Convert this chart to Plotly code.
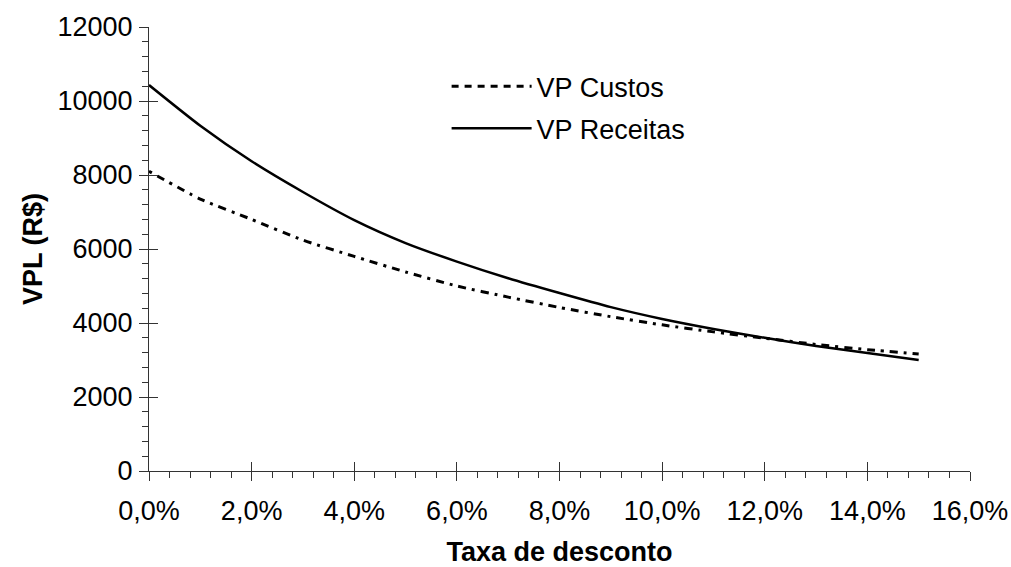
import plotly.graph_objects as go

# discount rate (fraction) and present values
taxa = [0.00, 0.01, 0.02, 0.03, 0.04, 0.05, 0.06, 0.07, 0.08,
        0.09, 0.10, 0.11, 0.12, 0.13, 0.14, 0.15]
vp_custos = [8100, 7350, 6800, 6240, 5800, 5380, 5000, 4700, 4420,
             4170, 3950, 3760, 3590, 3420, 3280, 3160]
vp_receitas = [10430, 9330, 8370, 7540, 6780, 6160, 5660, 5210, 4810,
               4430, 4110, 3840, 3600, 3380, 3190, 3000]

FONT = "Liberation Sans, Arial, sans-serif"
INK = "#000000"
AXIS = "#333333"
FS = 27

fig = go.Figure()

# plotted curves
fig.add_trace(go.Scatter(
    x=taxa, y=vp_custos, mode="lines", name="VP Custos",
    line=dict(color=INK, width=3, dash="3px,6px,8px,6px",
              shape="spline", smoothing=0.6),
    showlegend=False
))
fig.add_trace(go.Scatter(
    x=taxa, y=vp_receitas, mode="lines", name="VP Receitas",
    line=dict(color=INK, width=2.5, shape="spline", smoothing=0.6),
    showlegend=False
))

# legend entries (legend uses a regular dash like the original)
fig.add_trace(go.Scatter(
    x=[None], y=[None], mode="lines", name="VP Custos",
    line=dict(color=INK, width=3, dash="7px,6px"),
    legendgroup="c"
))
fig.add_trace(go.Scatter(
    x=[None], y=[None], mode="lines", name="VP Receitas",
    line=dict(color=INK, width=2.5),
    legendgroup="r"
))

tick_font = dict(family=FONT, size=FS, color=INK)
title_font = dict(family=FONT, size=FS, color=INK)

fig.update_layout(
    width=1011, height=567,
    margin=dict(l=149, r=41, t=27, b=96),
    paper_bgcolor="white",
    plot_bgcolor="white",
    font=dict(family=FONT, size=FS, color=INK),
    separators=",.",
    xaxis=dict(
        range=[0, 0.16], dtick=0.02, tick0=0, tickformat=".1%",
        showgrid=False, zeroline=False, automargin=False,
        showline=True, linecolor=AXIS, linewidth=1,
        ticks="outside", ticklen=9, tickcolor=AXIS, tickwidth=1,
        minor=dict(dtick=0.004, ticks="outside", ticklen=6,
                   tickcolor=AXIS, tickwidth=1, showgrid=False),
        tickfont=tick_font, ticklabelstandoff=7,
        title=dict(text="<b>Taxa de desconto</b>", font=title_font, standoff=19),
    ),
    yaxis=dict(
        range=[0, 12000], dtick=2000, tick0=0, tickformat="d",
        showgrid=False, zeroline=False, automargin=False,
        showline=True, linecolor=AXIS, linewidth=1,
        ticks="outside", ticklen=9, tickcolor=AXIS, tickwidth=1,
        minor=dict(dtick=400, ticks="outside", ticklen=6,
                   tickcolor=AXIS, tickwidth=1, showgrid=False),
        tickfont=tick_font, ticklabelstandoff=1,
        title=dict(text="<b>VPL (R$)</b>", font=title_font, standoff=7),
    ),
    # inner halves of the major ticks (ticks cross the axes)
    xaxis2=dict(
        range=[0, 0.16], dtick=0.02, tick0=0, overlaying="x", anchor="y",
        side="bottom", showgrid=False, zeroline=False, showline=False,
        automargin=False,
        ticks="inside", ticklen=9, tickcolor=AXIS, tickwidth=1,
        showticklabels=False,
    ),
    yaxis2=dict(
        range=[0, 12000], dtick=2000, tick0=0, overlaying="y", anchor="x",
        side="left", showgrid=False, zeroline=False, showline=False,
        automargin=False,
        ticks="inside", ticklen=9, tickcolor=AXIS, tickwidth=1,
        showticklabels=False,
    ),
    legend=dict(
        x=0.3625, y=0.921, xanchor="left", yanchor="top",
        bgcolor="rgba(0,0,0,0)", borderwidth=0,
        font=dict(family=FONT, size=FS, color=INK),
        itemwidth=80, tracegroupgap=4, traceorder="grouped",
    ),
)

# invisible trace so the overlay axes get drawn
fig.add_trace(go.Scatter(
    x=[None], y=[None], xaxis="x2", yaxis="y2",
    mode="lines", showlegend=False, hoverinfo="skip"
))

# drop the default 8px page margin so the figure fills the window exactly
fig.write_html("out.html",
               config={"displayModeBar": False},
               post_script="document.body.style.margin='0';"
                           "document.body.style.overflow='hidden';")
